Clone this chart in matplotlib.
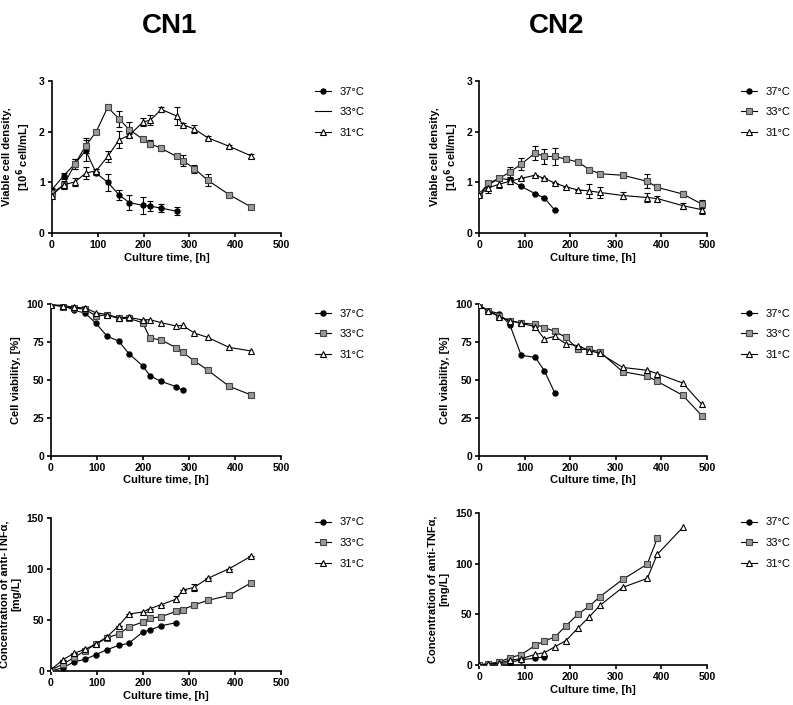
import matplotlib
matplotlib.use('Agg')
import matplotlib.pyplot as plt
from matplotlib.lines import Line2D

plt.rcParams['font.family'] = ['Liberation Sans', 'DejaVu Sans']
plt.rcParams['font.weight'] = 'bold'

# Tiempos de muestreo
t1 = [0, 26, 51, 74, 97, 122, 147, 169, 199, 215, 239, 272, 286, 311, 340, 387, 435]
t2 = [0, 20, 44, 67, 92, 123, 143, 166, 190, 217, 242, 265, 315, 369, 391, 447, 489]

# CN1 - densidad celular viable
cn1_vcd_37 = [0.85, 1.13, 1.37, 1.63, 1.18, 1.0, 0.75, 0.6, 0.545, 0.53, 0.49, 0.43]
cn1_vcd_37_err = [0.03, 0.06, 0.1, 0.2, 0.03, 0.17, 0.1, 0.15, 0.17, 0.1, 0.08, 0.08]
cn1_vcd_33 = [0.79, 0.94, 1.37, 1.72, 2.0, 2.48, 2.25, 2.04, 1.85, 1.76, 1.67, 1.51, 1.43, 1.27, 1.04, 0.755, 0.51]
cn1_vcd_33_err = [0.03, 0.08, 0.1, 0.15, 0.03, 0.03, 0.15, 0.15, 0.03, 0.07, 0.05, 0.03, 0.1, 0.08, 0.12, 0.03, 0.03]
cn1_vcd_31 = [0.74, 0.95, 1.01, 1.18, 1.23, 1.51, 1.84, 1.93, 2.19, 2.23, 2.44, 2.31, 2.14, 2.05, 1.88, 1.71, 1.52]
cn1_vcd_31_err = [0.03, 0.03, 0.08, 0.12, 0.03, 0.1, 0.17, 0.03, 0.08, 0.1, 0.05, 0.17, 0.03, 0.08, 0.03, 0.03, 0.03]

# CN2 - densidad celular viable
cn2_vcd_37 = [0.76, 0.95, 1.08, 1.05, 0.92, 0.775, 0.69, 0.45]
cn2_vcd_37_err = [0.03, 0.03, 0.03, 0.03, 0.0, 0.0, 0.0, 0.0]
cn2_vcd_33 = [0.77, 0.98, 1.08, 1.2, 1.36, 1.58, 1.51, 1.51, 1.46, 1.4, 1.25, 1.17, 1.14, 1.02, 0.9, 0.77, 0.57]
cn2_vcd_33_err = [0.03, 0.05, 0.03, 0.1, 0.12, 0.14, 0.15, 0.16, 0.0, 0.0, 0.0, 0.0, 0.0, 0.14, 0.06, 0.06, 0.08]
cn2_vcd_31 = [0.75, 0.89, 0.965, 1.02, 1.08, 1.14, 1.08, 0.985, 0.91, 0.85, 0.83, 0.8, 0.74, 0.7, 0.68, 0.54, 0.46]
cn2_vcd_31_err = [0.03, 0.1, 0.08, 0.06, 0.0, 0.0, 0.0, 0.0, 0.0, 0.0, 0.14, 0.1, 0.06, 0.08, 0.05, 0.06, 0.08]

# Viabilidad celular
cn1_via_37 = [99.1, 99.0, 95.8, 94.0, 87.5, 78.7, 75.6, 67.3, 59.3, 52.7, 49.0, 45.5, 43.0]
cn1_via_33 = [99.5, 98.2, 97.4, 96.5, 92.3, 92.7, 90.5, 90.5, 87.7, 77.6, 76.3, 71.2, 68.1, 62.6, 56.5, 45.7, 40.0]
cn1_via_31 = [99.5, 99.0, 97.8, 97.4, 94.3, 93.0, 91.0, 91.2, 89.5, 89.7, 87.7, 85.5, 85.9, 80.9, 78.0, 71.4, 69.0]
cn2_via_37 = [99.1, 95.6, 93.6, 86.4, 66.2, 64.8, 56.0, 41.3]
cn2_via_33 = [99.1, 95.6, 91.9, 89.0, 87.5, 86.6, 84.4, 82.0, 78.0, 70.1, 70.1, 68.4, 55.4, 52.5, 49.0, 39.8, 26.4]
cn2_via_31 = [99.1, 95.2, 91.6, 89.0, 87.3, 85.0, 76.9, 78.7, 73.8, 72.5, 69.2, 67.5, 58.2, 56.3, 54.1, 47.9, 33.8]

# Concentración de anti-TNFa
cn1_tit_37 = [0.0, 3.3, 9.1, 11.4, 16.0, 20.9, 25.1, 27.1, 38.1, 40.1, 44.3, 47.3]
cn1_tit_33 = [1.0, 6.8, 13.4, 19.9, 26.1, 32.6, 36.2, 43.0, 47.9, 51.8, 53.1, 58.4, 60.0, 64.6, 69.1, 74.0, 86.4]
cn1_tit_31 = [1.3, 11.1, 17.6, 21.2, 26.4, 33.6, 44.3, 55.8, 57.7, 61.0, 64.9, 70.4, 79.2, 81.8, 90.6, 100.1, 112.5]
cn1_tit_31_err = [0, 0, 0, 0, 0, 0, 0, 0, 0, 0, 0, 3, 0, 3, 0, 0, 0]
cn2_tit_37 = [0.0, 1.0, 1.6, 2.3, 5.3, 6.6, 8.2]
cn2_tit_33 = [0.3, 1.3, 3.0, 7.2, 10.2, 19.4, 23.6, 27.6, 38.4, 50.2, 58.1, 67.3, 84.3, 99.4, 124.7]
cn2_tit_31 = [0.0, 1.0, 2.0, 4.6, 6.2, 10.5, 12.1, 18.0, 24.0, 36.4, 47.6, 58.7, 76.5, 85.3, 109.0, 135.5]

labels = ['37°C', '33°C', '31°C']
styles = [dict(marker='o', mfc='black', mec='black', ms=3.6),
          dict(marker='s', mfc='#999999', mec='#444444', mew=0.8, ms=4.3),
          dict(marker='^', mfc='white', mec='black', mew=0.8, ms=4.5)]

fig = plt.figure(figsize=(7.93, 7.05), dpi=100)

# [left, bottom, width, height] y posición de la leyenda
pos = {
    'cn1_vcd': [0.0652, 0.6695, 0.2894, 0.2156],
    'cn2_vcd': [0.6044, 0.6695, 0.2870, 0.2156],
    'cn1_via': [0.0643, 0.3536, 0.2903, 0.2152],
    'cn2_via': [0.6044, 0.3536, 0.2870, 0.2152],
    'cn1_tit': [0.0643, 0.0482, 0.2903, 0.2174],
    'cn2_tit': [0.6044, 0.0567, 0.2870, 0.2160],
}
leg_pos = {
    'cn1_vcd': (0.397, 0.877), 'cn2_vcd': (0.934, 0.877),
    'cn1_via': (0.397, 0.562), 'cn2_via': (0.934, 0.562),
    'cn1_tit': (0.397, 0.266), 'cn2_tit': (0.934, 0.266),
}


def panel(key, t, series, errs, ylim, yticks, ylabel, nomarker_legend=False):
    ax = fig.add_axes(pos[key])
    for i, y in enumerate(series):
        x = t[:len(y)]
        e = errs[i]
        if e is not None:
            ax.errorbar(x, y, yerr=e, fmt='none', ecolor='black', elinewidth=0.8,
                        capsize=2, capthick=0.8, zorder=2)
        ax.plot(x, y, color='black', lw=0.8, zorder=3, **styles[i])
    ax.set_xlim(0, 500)
    ax.set_ylim(*ylim)
    ax.set_xticks([0, 100, 200, 300, 400, 500])
    ax.set_yticks(yticks)
    ax.spines['top'].set_visible(False)
    ax.spines['right'].set_visible(False)
    ax.spines['left'].set_linewidth(1.2)
    ax.spines['bottom'].set_linewidth(1.2)
    ax.tick_params(direction='out', length=3, width=1.2, labelsize=7.5, pad=2)
    ax.set_xlabel('Culture time, [h]', fontsize=8, fontweight='bold', labelpad=2)
    ax.set_ylabel(ylabel, fontsize=8, fontweight='bold', labelpad=4)
    handles = []
    for i in range(3):
        if nomarker_legend and i == 1:
            handles.append(Line2D([], [], color='black', lw=0.8))
        else:
            handles.append(Line2D([], [], color='black', lw=0.8, **styles[i]))
    fig.legend(handles, labels, loc='upper left', bbox_to_anchor=leg_pos[key],
               frameon=False, handlelength=1.5, handletextpad=0.7,
               labelspacing=0.95, borderpad=0, borderaxespad=0,
               prop={'weight': 'normal', 'size': 8})
    return ax


vcd_label = 'Viable cell density,\n[10$^{\\mathbf{6}}$ cell/mL]'
panel('cn1_vcd', t1, [cn1_vcd_37, cn1_vcd_33, cn1_vcd_31],
      [cn1_vcd_37_err, cn1_vcd_33_err, cn1_vcd_31_err], (0, 3), [0, 1, 2, 3], vcd_label,
      nomarker_legend=True)
panel('cn2_vcd', t2, [cn2_vcd_37, cn2_vcd_33, cn2_vcd_31],
      [cn2_vcd_37_err, cn2_vcd_33_err, cn2_vcd_31_err], (0, 3), [0, 1, 2, 3], vcd_label)
panel('cn1_via', t1, [cn1_via_37, cn1_via_33, cn1_via_31], [None, None, None],
      (0, 100), [0, 25, 50, 75, 100], 'Cell viability, [%]')
panel('cn2_via', t2, [cn2_via_37, cn2_via_33, cn2_via_31], [None, None, None],
      (0, 100), [0, 25, 50, 75, 100], 'Cell viability, [%]')
tit_label = 'Concentration of anti-TNF\u03b1,\n[mg/L]'
panel('cn1_tit', t1, [cn1_tit_37, cn1_tit_33, cn1_tit_31], [None, None, cn1_tit_31_err],
      (0, 150), [0, 50, 100, 150], tit_label)
panel('cn2_tit', t2, [cn2_tit_37, cn2_tit_33, cn2_tit_31], [None, None, None],
      (0, 150), [0, 50, 100, 150], tit_label)

fig.text(0.214, 0.982, 'CN1', fontsize=20, fontweight='bold', ha='center', va='top')
fig.text(0.702, 0.982, 'CN2', fontsize=20, fontweight='bold', ha='center', va='top')

fig.savefig('out.png', dpi=100)
